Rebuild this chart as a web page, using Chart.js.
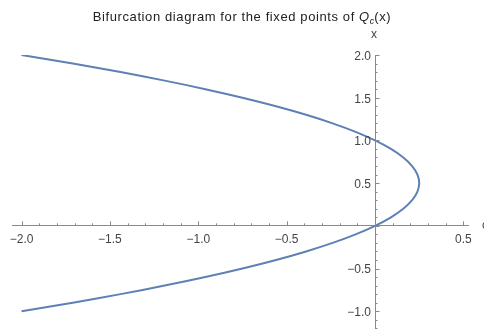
<!DOCTYPE html>
<html>
<head>
<meta charset="utf-8">
<script src="https://cdn.jsdelivr.net/npm/chart.js@4/dist/chart.umd.min.js"></script>
<style>
  body { margin: 0; background: #fff; }
  #wrap { position: relative; width: 484px; height: 333px; overflow: hidden; font-family: "Liberation Sans", Arial, sans-serif; }
  #title { position: absolute; left: 0; width: 484px; top: 9px; text-align: center; font-size: 13px; letter-spacing: 0.6px; color: #222; line-height: 16px; }
  #title sub { font-size: 9px; vertical-align: -3px; line-height: 0; letter-spacing: 0; }
  #ylab { position: absolute; left: 371px; top: 27px; font-size: 12px; color: #444; }
  #xlab { position: absolute; left: 482px; top: 218px; font-size: 12px; color: #444; }
  canvas { position: absolute; left: 0; top: 0; }
</style>
</head>
<body>
<div id="wrap">
  <canvas id="chart" width="484" height="333"></canvas>
  <div id="title">Bifurcation diagram for the fixed points of <i>Q</i><sub><i>c</i></sub>(x)</div>
  <div id="ylab">x</div>
  <div id="xlab">c</div>
</div>
<script>
// fixed points x, and the parameter c where they sit
const fixedX = [-1.0, -0.9, -0.8, -0.7, -0.6, -0.5, -0.4, -0.3, -0.2, -0.1, 0.0, 0.1, 0.2, 0.3, 0.4, 0.5,
                0.6, 0.7, 0.8, 0.9, 1.0, 1.1, 1.2, 1.3, 1.4, 1.5, 1.6, 1.7, 1.8, 1.9, 2.0];
const paramC = [-2.0, -1.71, -1.44, -1.19, -0.96, -0.75, -0.56, -0.39, -0.24, -0.11, 0.0, 0.09, 0.16, 0.21, 0.24, 0.25,
                0.24, 0.21, 0.16, 0.09, 0.0, -0.11, -0.24, -0.39, -0.56, -0.75, -0.96, -1.19, -1.44, -1.71, -2.0];

const axisColor = '#8a8a8a';
const labelColor = '#444';
const labelFont = '12px "Liberation Sans", Arial, sans-serif';

function isMajor(v) {
  return Math.abs(Math.round(v * 10)) % 5 === 0;
}
function fmt(v) {
  const s = Math.abs(v).toFixed(1);
  return v < 0 ? '\u2212' + s : s;
}
// ticks every 0.1 inside the axis range
function tenthTicks(scale) {
  const ticks = [];
  for (let i = Math.ceil(scale.min * 10 - 1e-6); i <= Math.floor(scale.max * 10 + 1e-6); i++) {
    ticks.push({ value: i / 10 });
  }
  scale.ticks = ticks;
}

// Mathematica-like axes: ticks on the inside, labels every 0.5
const axisDecor = {
  id: 'axisDecor',
  afterDraw(chart) {
    const ctx = chart.ctx;
    const xs = chart.scales.x, ys = chart.scales.y;
    const y0 = ys.getPixelForValue(0);
    const x0 = xs.getPixelForValue(0);
    ctx.save();
    ctx.strokeStyle = axisColor;
    ctx.lineWidth = 1;
    ctx.beginPath();
    xs.ticks.forEach(t => {
      const px = Math.round(xs.getPixelForValue(t.value)) + 0.5;
      ctx.moveTo(px, y0);
      ctx.lineTo(px, y0 - (isMajor(t.value) ? 4.5 : 2.5));
    });
    ys.ticks.forEach(t => {
      const py = Math.round(ys.getPixelForValue(t.value)) + 0.5;
      ctx.moveTo(x0, py);
      ctx.lineTo(x0 + (isMajor(t.value) ? 4.5 : 2.5), py);
    });
    ctx.stroke();

    ctx.fillStyle = labelColor;
    ctx.font = labelFont;
    ctx.textBaseline = 'middle';
    ctx.textAlign = 'center';
    xs.ticks.filter(t => isMajor(t.value) && Math.abs(t.value) > 1e-9).forEach(t => {
      ctx.fillText(fmt(t.value), xs.getPixelForValue(t.value), y0 + 14);
    });
    ctx.textAlign = 'right';
    ys.ticks.filter(t => isMajor(t.value) && Math.abs(t.value) > 1e-9).forEach(t => {
      ctx.fillText(fmt(t.value), x0 - 4, ys.getPixelForValue(t.value) + 1.5);
    });
    ctx.restore();
  }
};

new Chart(document.getElementById('chart'), {
  type: 'line',
  data: {
    datasets: [{
      data: paramC.map((c, i) => ({ x: c, y: fixedX[i] })),
      borderColor: '#5e81b5',
      borderWidth: 2,
      pointRadius: 0,
      tension: 0.35,
      fill: false
    }]
  },
  options: {
    responsive: false,
    animation: false,
    layout: { padding: { left: 12, right: 16, top: 55, bottom: 4.7 } },
    plugins: { legend: { display: false }, tooltip: { enabled: false }, title: { display: false } },
    scales: {
      x: {
        type: 'linear',
        position: { y: 0 },
        min: -2.054,
        max: 0.526,
        grid: { display: false, drawTicks: false },
        border: { display: true, color: axisColor, width: 1 },
        afterBuildTicks: tenthTicks,
        ticks: { display: false }
      },
      y: {
        type: 'linear',
        position: { x: 0 },
        min: -1.2,
        max: 2.0,
        grid: { display: false, drawTicks: false },
        border: { display: true, color: axisColor, width: 1 },
        afterBuildTicks: tenthTicks,
        ticks: { display: false }
      }
    }
  },
  plugins: [axisDecor]
});
</script>
</body>
</html>
